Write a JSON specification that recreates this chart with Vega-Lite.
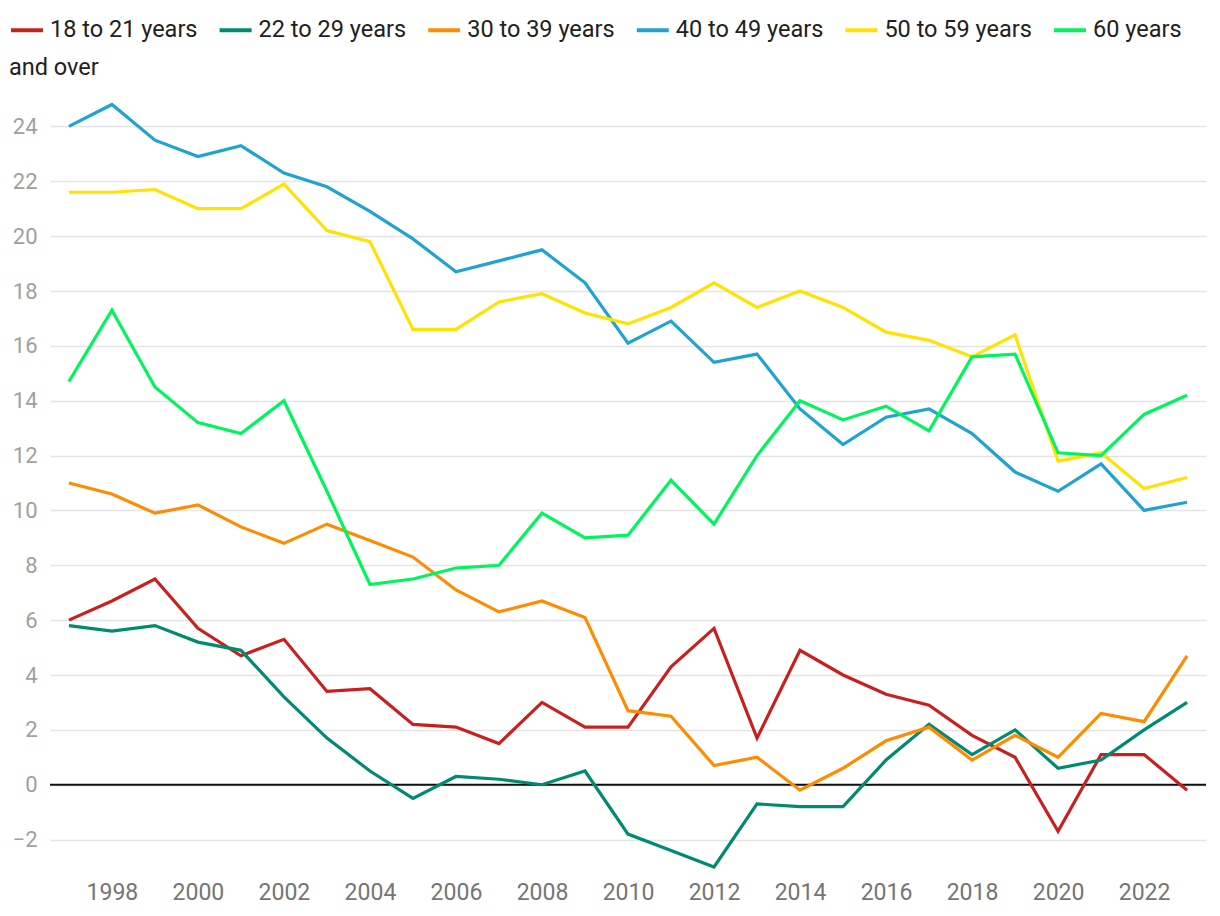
{
  "$schema": "https://vega.github.io/schema/vega-lite/v6.json",
  "width": 1156,
  "height": 768,
  "autosize": {"type": "none"},
  "padding": {"left": 50, "top": 99, "right": 14, "bottom": 49},
  "background": "white",
  "config": {"font": "Roboto", "view": {"stroke": null}},
  "layer": [
    {
      "data": {"values": [{"v": 0}]},
      "mark": {"type": "rule", "color": "#111111", "strokeWidth": 2},
      "encoding": {"y": {"field": "v", "type": "quantitative"}}
    },
    {
      "data": {
        "values": [
          {"year": 1997, "18 to 21 years": 6.0, "22 to 29 years": 5.8, "30 to 39 years": 11.0, "40 to 49 years": 24.0, "50 to 59 years": 21.6, "60 years and over": 14.7},
          {"year": 1998, "18 to 21 years": 6.7, "22 to 29 years": 5.6, "30 to 39 years": 10.6, "40 to 49 years": 24.8, "50 to 59 years": 21.6, "60 years and over": 17.3},
          {"year": 1999, "18 to 21 years": 7.5, "22 to 29 years": 5.8, "30 to 39 years": 9.9, "40 to 49 years": 23.5, "50 to 59 years": 21.7, "60 years and over": 14.5},
          {"year": 2000, "18 to 21 years": 5.7, "22 to 29 years": 5.2, "30 to 39 years": 10.2, "40 to 49 years": 22.9, "50 to 59 years": 21.0, "60 years and over": 13.2},
          {"year": 2001, "18 to 21 years": 4.7, "22 to 29 years": 4.9, "30 to 39 years": 9.4, "40 to 49 years": 23.3, "50 to 59 years": 21.0, "60 years and over": 12.8},
          {"year": 2002, "18 to 21 years": 5.3, "22 to 29 years": 3.2, "30 to 39 years": 8.8, "40 to 49 years": 22.3, "50 to 59 years": 21.9, "60 years and over": 14.0},
          {"year": 2003, "18 to 21 years": 3.4, "22 to 29 years": 1.7, "30 to 39 years": 9.5, "40 to 49 years": 21.8, "50 to 59 years": 20.2, "60 years and over": 10.7},
          {"year": 2004, "18 to 21 years": 3.5, "22 to 29 years": 0.5, "30 to 39 years": 8.9, "40 to 49 years": 20.9, "50 to 59 years": 19.8, "60 years and over": 7.3},
          {"year": 2005, "18 to 21 years": 2.2, "22 to 29 years": -0.5, "30 to 39 years": 8.3, "40 to 49 years": 19.9, "50 to 59 years": 16.6, "60 years and over": 7.5},
          {"year": 2006, "18 to 21 years": 2.1, "22 to 29 years": 0.3, "30 to 39 years": 7.1, "40 to 49 years": 18.7, "50 to 59 years": 16.6, "60 years and over": 7.9},
          {"year": 2007, "18 to 21 years": 1.5, "22 to 29 years": 0.2, "30 to 39 years": 6.3, "40 to 49 years": 19.1, "50 to 59 years": 17.6, "60 years and over": 8.0},
          {"year": 2008, "18 to 21 years": 3.0, "22 to 29 years": 0.0, "30 to 39 years": 6.7, "40 to 49 years": 19.5, "50 to 59 years": 17.9, "60 years and over": 9.9},
          {"year": 2009, "18 to 21 years": 2.1, "22 to 29 years": 0.5, "30 to 39 years": 6.1, "40 to 49 years": 18.3, "50 to 59 years": 17.2, "60 years and over": 9.0},
          {"year": 2010, "18 to 21 years": 2.1, "22 to 29 years": -1.8, "30 to 39 years": 2.7, "40 to 49 years": 16.1, "50 to 59 years": 16.8, "60 years and over": 9.1},
          {"year": 2011, "18 to 21 years": 4.3, "22 to 29 years": -2.4, "30 to 39 years": 2.5, "40 to 49 years": 16.9, "50 to 59 years": 17.4, "60 years and over": 11.1},
          {"year": 2012, "18 to 21 years": 5.7, "22 to 29 years": -3.0, "30 to 39 years": 0.7, "40 to 49 years": 15.4, "50 to 59 years": 18.3, "60 years and over": 9.5},
          {"year": 2013, "18 to 21 years": 1.7, "22 to 29 years": -0.7, "30 to 39 years": 1.0, "40 to 49 years": 15.7, "50 to 59 years": 17.4, "60 years and over": 12.0},
          {"year": 2014, "18 to 21 years": 4.9, "22 to 29 years": -0.8, "30 to 39 years": -0.2, "40 to 49 years": 13.7, "50 to 59 years": 18.0, "60 years and over": 14.0},
          {"year": 2015, "18 to 21 years": 4.0, "22 to 29 years": -0.8, "30 to 39 years": 0.6, "40 to 49 years": 12.4, "50 to 59 years": 17.4, "60 years and over": 13.3},
          {"year": 2016, "18 to 21 years": 3.3, "22 to 29 years": 0.9, "30 to 39 years": 1.6, "40 to 49 years": 13.4, "50 to 59 years": 16.5, "60 years and over": 13.8},
          {"year": 2017, "18 to 21 years": 2.9, "22 to 29 years": 2.2, "30 to 39 years": 2.1, "40 to 49 years": 13.7, "50 to 59 years": 16.2, "60 years and over": 12.9},
          {"year": 2018, "18 to 21 years": 1.8, "22 to 29 years": 1.1, "30 to 39 years": 0.9, "40 to 49 years": 12.8, "50 to 59 years": 15.6, "60 years and over": 15.6},
          {"year": 2019, "18 to 21 years": 1.0, "22 to 29 years": 2.0, "30 to 39 years": 1.8, "40 to 49 years": 11.4, "50 to 59 years": 16.4, "60 years and over": 15.7},
          {"year": 2020, "18 to 21 years": -1.7, "22 to 29 years": 0.6, "30 to 39 years": 1.0, "40 to 49 years": 10.7, "50 to 59 years": 11.8, "60 years and over": 12.1},
          {"year": 2021, "18 to 21 years": 1.1, "22 to 29 years": 0.9, "30 to 39 years": 2.6, "40 to 49 years": 11.7, "50 to 59 years": 12.1, "60 years and over": 12.0},
          {"year": 2022, "18 to 21 years": 1.1, "22 to 29 years": 2.0, "30 to 39 years": 2.3, "40 to 49 years": 10.0, "50 to 59 years": 10.8, "60 years and over": 13.5},
          {"year": 2023, "18 to 21 years": -0.2, "22 to 29 years": 3.0, "30 to 39 years": 4.7, "40 to 49 years": 10.3, "50 to 59 years": 11.2, "60 years and over": 14.2}
        ]
      },
      "transform": [
        {"fold": ["18 to 21 years", "22 to 29 years", "30 to 39 years", "40 to 49 years", "50 to 59 years", "60 years and over"], "as": ["group", "value"]}
      ],
      "mark": {"type": "line", "strokeWidth": 3.2},
      "encoding": {
        "x": {
          "field": "year",
          "type": "quantitative",
          "scale": {"domain": [1996.56, 2023.44], "nice": false, "zero": false},
          "axis": {
            "title": null,
            "values": [1998, 2000, 2002, 2004, 2006, 2008, 2010, 2012, 2014, 2016, 2018, 2020, 2022],
            "format": "d",
            "grid": false,
            "domain": false,
            "ticks": false,
            "labelFontSize": 23,
            "labelColor": "#757575",
            "labelPadding": 14
          }
        },
        "y": {
          "field": "value",
          "type": "quantitative",
          "scale": {"domain": [-3, 25], "nice": false},
          "axis": {
            "title": null,
            "values": [-2, 0, 2, 4, 6, 8, 10, 12, 14, 16, 18, 20, 22, 24],
            "grid": true,
            "gridColor": "#e4e4e4",
            "gridWidth": 1.5,
            "domain": false,
            "ticks": false,
            "labelFontSize": 22,
            "labelColor": "#a0a0a0",
            "labelPadding": 13
          }
        },
        "color": {
          "field": "group",
          "type": "nominal",
          "scale": {
            "domain": ["18 to 21 years", "22 to 29 years", "30 to 39 years", "40 to 49 years", "50 to 59 years", "60 years and over"],
            "range": ["#c9201f", "#008a70", "#ff8c00", "#1fa3d1", "#ffe200", "#00f55c"]
          },
          "legend": {
            "orient": "none",
            "legendX": -41,
            "legendY": -87,
            "direction": "horizontal",
            "symbolType": "stroke",
            "symbolSize": 1024,
            "symbolStrokeWidth": 4,
            "labelFontSize": 23.5,
            "labelColor": "#212121",
            "labelOffset": 5,
            "labelLimit": 300,
            "columnPadding": 13.6,
            "labelExpr": "datum.label == '60 years and over' ? '60 years' : datum.label",
            "title": "and over",
            "titleOrient": "bottom",
            "titleAnchor": "start",
            "titleFontSize": 23.5,
            "titleFontWeight": "normal",
            "titleColor": "#212121",
            "titlePadding": 14
          }
        }
      }
    }
  ]
}
